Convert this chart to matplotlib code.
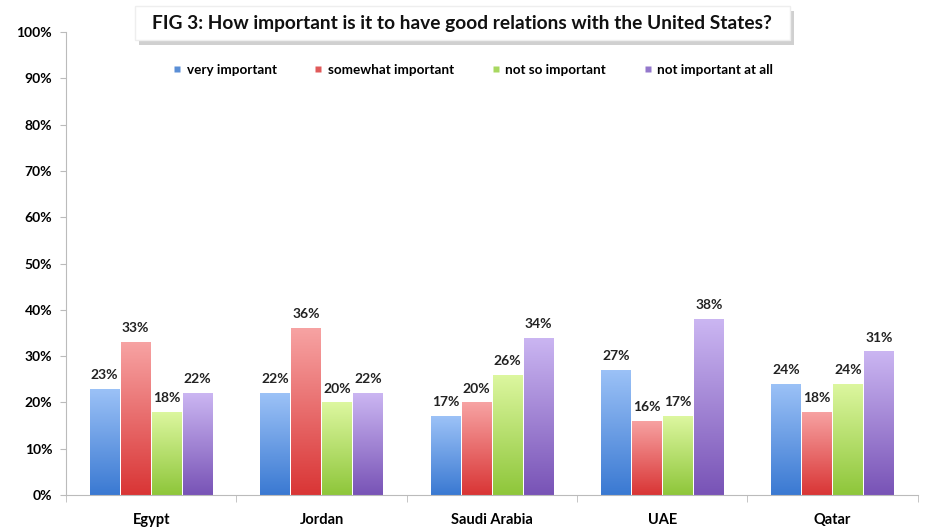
import numpy as np
import matplotlib
matplotlib.use("Agg")
import matplotlib.pyplot as plt
from matplotlib.colors import LinearSegmentedColormap
from matplotlib.patches import Rectangle
from matplotlib.lines import Line2D
from matplotlib.ticker import PercentFormatter

plt.rcParams['font.family'] = ['Lato', 'DejaVu Sans']

countries = ['Egypt', 'Jordan', 'Saudi Arabia', 'UAE', 'Qatar']
series = ['very important', 'somewhat important', 'not so important', 'not important at all']
very_important = [23, 22, 17, 27, 24]
somewhat_important = [33, 36, 20, 16, 18]
not_so_important = [18, 20, 26, 17, 24]
not_important_at_all = [22, 22, 34, 38, 31]
values = [very_important, somewhat_important, not_so_important, not_important_at_all]

# (top colour, bottom colour) for each series' gradient fill
gradients = [('#9cc2f7', '#3a79d2'),
             ('#f7a3a3', '#d93535'),
             ('#ddf7a0', '#8ec63a'),
             ('#cbb6f2', '#7853b6')]
legend_colors = ['#5b8fd6', '#e05a5a', '#a8d860', '#9478cc']

fig = plt.figure(figsize=(9.38, 5.31), dpi=100)
ax = fig.add_axes([0.0704, 0.0678, 0.908, 0.8719])

x = np.arange(len(countries))
width = 0.172
step = 0.182
ramp = np.linspace(0, 1, 256).reshape(-1, 1)

for i, (vals, (top, bottom)) in enumerate(zip(values, gradients)):
    cmap = LinearSegmentedColormap.from_list('g%d' % i, [bottom, top])
    pos = x + (i - 1.5) * step
    bars = ax.bar(pos, vals, width, color='none', edgecolor='none')
    for b, v in zip(bars, vals):
        x0 = b.get_x()
        im = ax.imshow(ramp, cmap=cmap, origin='lower', aspect='auto',
                       extent=[x0, x0 + width, 0, v], zorder=2)
        im.set_clip_path(b)
        ax.text(x0 + width / 2, v + 1.7, '%d%%' % v, ha='center', va='bottom',
                fontsize=10, fontweight='bold', color='#222222')

ax.set_xlim(-0.5, len(countries) - 0.5)
ax.set_ylim(0, 100)
ax.set_yticks(range(0, 101, 10))
ax.yaxis.set_major_formatter(PercentFormatter(decimals=0))
ax.set_xticks(x)
ax.set_xticklabels(countries, fontsize=10.5, fontweight='bold')
ax.set_xticks(np.arange(-0.5, len(countries)), minor=True)
ax.tick_params(axis='x', which='major', length=0, pad=13)
ax.tick_params(axis='x', which='minor', length=5, color='#bbbbbb')
ax.tick_params(axis='y', length=4, color='#bbbbbb', labelsize=10, pad=6)
for lab in ax.get_yticklabels():
    lab.set_fontweight('bold')
for side in ('top', 'right'):
    ax.spines[side].set_visible(False)
for side in ('left', 'bottom'):
    ax.spines[side].set_color('#bbbbbb')

# Title in a white box with a soft drop shadow
fig.patches.append(Rectangle((0.148, 0.916), 0.698, 0.064, transform=fig.transFigure,
                             facecolor='#d0d0d0', edgecolor='none', zorder=0))
fig.patches.append(Rectangle((0.144, 0.924), 0.698, 0.064, transform=fig.transFigure,
                             facecolor='white', edgecolor='#eeeeee', zorder=1))
fig.text(0.493, 0.955, 'FIG 3: How important is it to have good relations with the United States?',
         ha='center', va='center', fontsize=13.8, fontweight='bold', color='#111111', zorder=2)

handles = [Line2D([], [], marker='s', linestyle='none', markersize=5,
                  markerfacecolor=c, markeredgecolor='none') for c in legend_colors]
fig.legend(handles, series, loc='center', bbox_to_anchor=(0.503, 0.868), ncol=4,
           frameon=False, handletextpad=0.2, columnspacing=2.6, handlelength=1.0,
           prop={'weight': 'bold', 'size': 9.7})

fig.savefig('out.png', dpi=100)
